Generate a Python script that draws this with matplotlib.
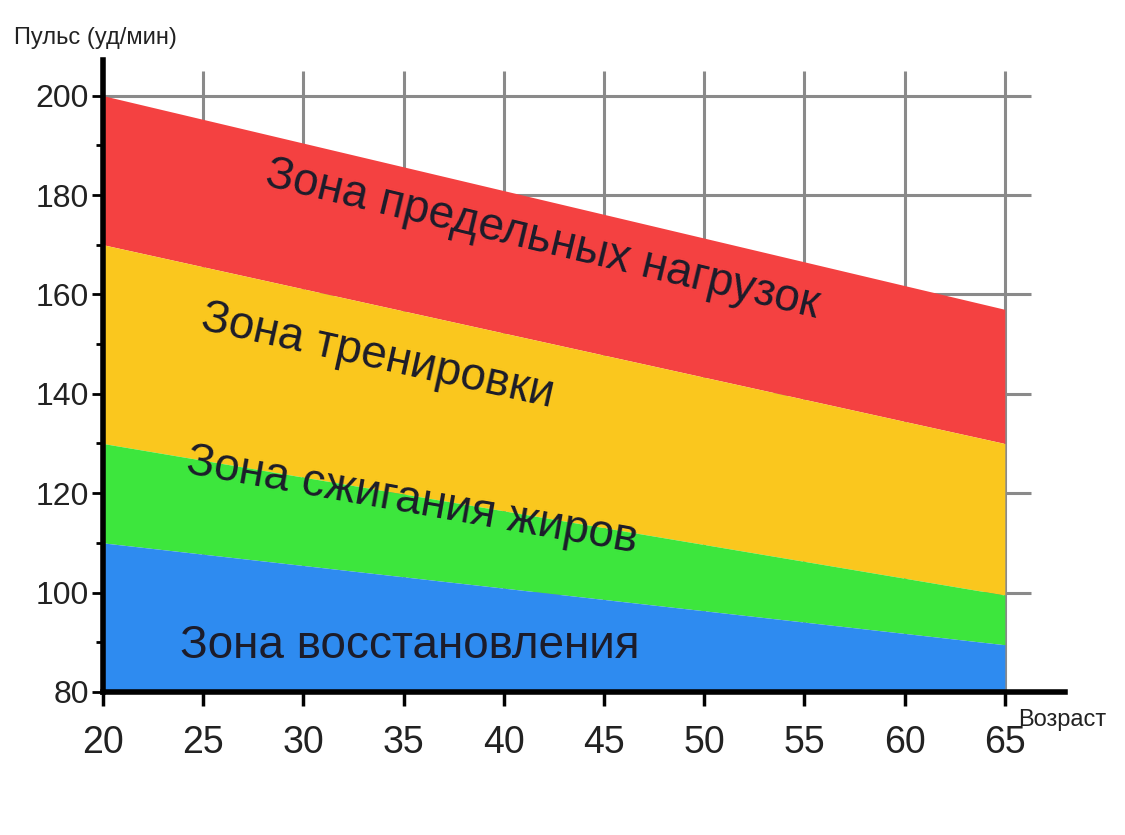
import matplotlib.pyplot as plt

plt.rcParams['font.family'] = ['Liberation Sans', 'DejaVu Sans']

ages = [20, 65]
top_limit = [200, 157]
train_top = [170, 130]
fat_top = [130, 99.5]
recov_top = [110, 89.5]
bottom = [80, 80]

x_ticks = [20, 25, 30, 35, 40, 45, 50, 55, 60, 65]
y_ticks = [80, 100, 120, 140, 160, 180, 200]

fig = plt.figure(figsize=(11.25, 8.35), dpi=100)
ax = fig.add_axes([0.0916, 0.1713, 0.855, 0.757])
ax.set_xlim(20, 68)
ax.set_ylim(80, 207.2)

# сетка
ax.hlines(y_ticks[1:], 20, 66.3, color='#8a8a8a', lw=2.2, zorder=0)
ax.vlines(x_ticks[1:], 80, 205, color='#8a8a8a', lw=2.2, zorder=0)

# зоны
ax.fill_between(ages, train_top, top_limit, color='#F44141', lw=0, zorder=1)
ax.fill_between(ages, fat_top, train_top, color='#FAC71E', lw=0, zorder=1)
ax.fill_between(ages, recov_top, fat_top, color='#3DE63D', lw=0, zorder=1)
ax.fill_between(ages, bottom, recov_top, color='#2E8BF0', lw=0, zorder=1)

for s in ['top', 'right']:
    ax.spines[s].set_visible(False)
ax.spines['left'].set_linewidth(4)
ax.spines['bottom'].set_linewidth(4)
ax.spines['left'].set_zorder(3)
ax.spines['bottom'].set_zorder(3)

ax.set_xticks(x_ticks)
ax.set_yticks(y_ticks)
ax.set_yticks(range(90, 200, 10), minor=True)
ax.tick_params(axis='y', length=8, width=2, labelsize=23, labelcolor='#222222', pad=2)
ax.tick_params(axis='y', which='minor', length=5, width=2)
ax.tick_params(axis='x', length=10, width=2.5, labelsize=27, labelcolor='#222222', pad=14)

tc = '#1c1c2a'
ax.text(41.9, 171, 'Зона предельных нагрузок', fontsize=33, color=tc,
        rotation=-13.5, ha='center', va='center', rotation_mode='anchor')
ax.text(33.7, 147.5, 'Зона тренировки', fontsize=33, color=tc,
        rotation=-12.5, ha='center', va='center', rotation_mode='anchor')
ax.text(35.4, 118.5, 'Зона сжигания жиров', fontsize=33, color=tc,
        rotation=-10, ha='center', va='center', rotation_mode='anchor')
ax.text(35.3, 89.2, 'Зона восстановления', fontsize=33, color=tc,
        ha='center', va='center')

fig.text(0.012, 0.955, 'Пульс (уд/мин)', fontsize=17, color='#222222',
         va='center', fontstretch='condensed')
fig.text(0.905, 0.138, 'Возраст', fontsize=17, color='#222222', va='center')

fig.savefig('out.png', dpi=100)
